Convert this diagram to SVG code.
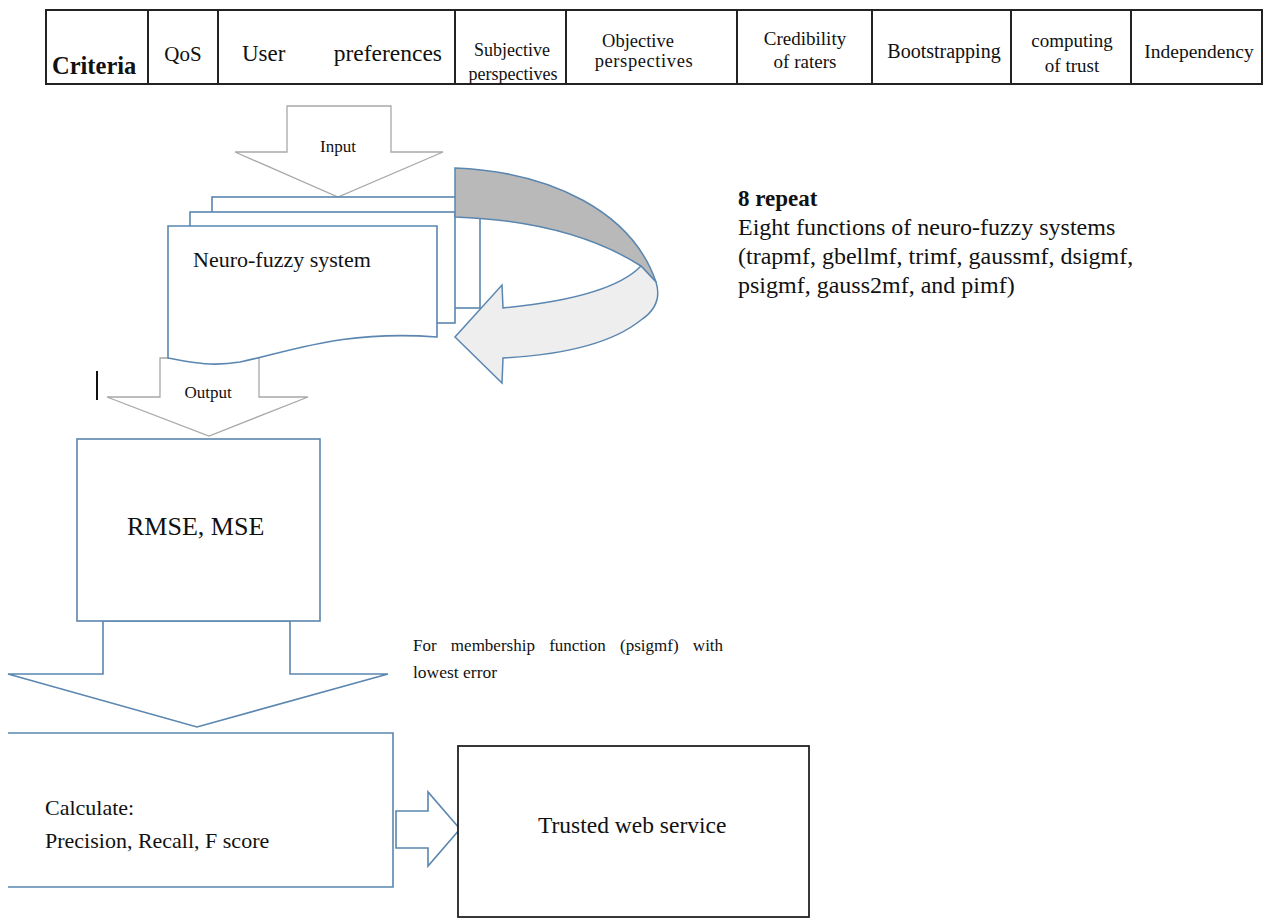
<svg xmlns="http://www.w3.org/2000/svg" width="1266" height="918" viewBox="0 0 1266 918">
<style>
  text { font-family: "Liberation Serif", "Times New Roman", serif; fill: #111; }
  .tb { fill: none; stroke: #222; stroke-width: 2; }
  .blue { fill: #fff; stroke: #5a86b0; stroke-width: 1.6; }
  .grey { fill: #fff; stroke: #a8a8a8; stroke-width: 1.3; }
  .blk { fill: #fff; stroke: #222; stroke-width: 1.8; }
  .c { text-anchor: middle; }
</style>
<rect width="1266" height="918" fill="#fff"/>

<g id="criteria-table">
  <rect class="tb" x="46" y="10" width="1216" height="74"/>
  <path class="tb" d="M148 10V84M218 10V84M455 10V84M566 10V84M737 10V84M872 10V84M1011 10V84M1131 10V84"/>
  <text x="52" y="74" font-size="24.5" font-weight="bold">Criteria</text>
  <text class="c" x="183" y="61" font-size="21">QoS</text>
  <text x="242" y="61" font-size="23">User</text>
  <text x="442" y="61" font-size="23.5" text-anchor="end">preferences</text>
  <text class="c" x="512" y="56" font-size="18">Subjective</text>
  <text class="c" x="513" y="80" font-size="18">perspectives</text>
  <text class="c" x="638" y="47" font-size="18.5">Objective</text>
  <text class="c" x="644" y="67" font-size="18.5" letter-spacing="0.6">perspectives</text>
  <text class="c" x="805" y="45" font-size="19">Credibility</text>
  <text class="c" x="805" y="68" font-size="19">of raters</text>
  <text class="c" x="944" y="58" font-size="20">Bootstrapping</text>
  <text class="c" x="1072" y="47" font-size="19">computing</text>
  <text class="c" x="1072" y="72" font-size="19">of trust</text>
  <text class="c" x="1199" y="58" font-size="19.5">Independency</text>
</g>

<g id="connectors">
  <g id="input-arrow">
    <polygon class="grey" points="287,106 391,106 391,152 443,152 338,197 235,152 287,152"/>
    <text class="c" x="338" y="152" font-size="17">Input</text>
  </g>
  <g id="output-arrow">
    <polygon class="grey" points="160,358 259,358 259,397 308,397 209,436 107,397 160,397"/>
    <text class="c" x="208" y="398" font-size="17">Output</text>
  </g>
  <g id="big-arrow">
    <polygon class="blue" points="103,621 290,621 290,674 388,674 197,727 8,674 103,674"/>
  </g>
  <g id="right-arrow">
    <polygon class="blue" points="396,811 428,811 428,792 460,829 428,866 428,848 396,848"/>
  </g>
  <line x1="97" y1="371" x2="97" y2="400" stroke="#111" stroke-width="2"/>
</g>

<g id="neuro-fuzzy">
  <rect class="blue" x="212" y="197" width="268" height="111"/>
  <rect class="blue" x="190" y="212" width="265" height="111"/>
  <path class="blue" d="M168 226H437V337C340 330 290 352 240 362C210 367 190 362 168 358Z"/>
  <text x="193" y="267" font-size="22">Neuro-fuzzy system</text>
</g>

<g id="repeat-loop">
  <path d="M455 168C552 172 632 212 656 282L641 266C600 240 540 220 455 217Z" fill="#b9b9b9" stroke="#5a86b0" stroke-width="1.5"/>
  <path d="M656 282C661 298 656 310 641 320C610 345 560 355 503 358L502 383L455 337L502 285L503 308C565 302 618 290 641 266Z" fill="#eeeeee" stroke="#5a86b0" stroke-width="1.5"/>
</g>

<g id="repeat-note">
  <text x="738" y="206" font-size="23" font-weight="bold">8 repeat</text>
  <text x="738" y="235" font-size="24">Eight functions of neuro-fuzzy systems</text>
  <text x="738" y="264" font-size="24">(trapmf, gbellmf, trimf, gaussmf, dsigmf,</text>
  <text x="738" y="293" font-size="24">psigmf, gauss2mf, and pimf)</text>
</g>

<g id="rmse">
  <rect class="blue" x="77" y="439" width="243" height="182"/>
  <text x="127" y="535" font-size="26">RMSE, MSE</text>
</g>

<g id="lowest-note">
  <text x="413" y="651" font-size="17" word-spacing="10">For membership function (psigmf) with</text>
  <text x="413" y="678" font-size="17.5">lowest error</text>
</g>

<g id="calculate">
  <path d="M8 733H393V887H8" fill="#fff" stroke="#5a86b0" stroke-width="1.6"/>
  <text x="45" y="815" font-size="22">Calculate:</text>
  <text x="45" y="848" font-size="22">Precision, Recall, F score</text>
</g>

<g id="trusted">
  <rect class="blk" x="458" y="746" width="351" height="171"/>
  <text x="538" y="833" font-size="23.5">Trusted web service</text>
</g>
</svg>
